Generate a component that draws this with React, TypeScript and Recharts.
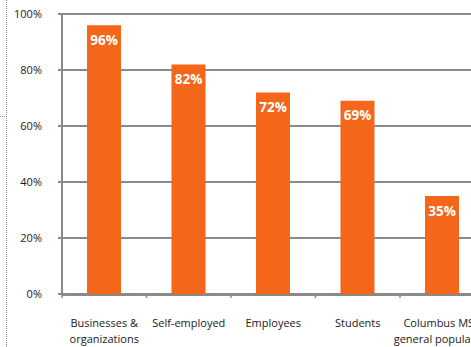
import React from 'react';
import { BarChart, Bar, XAxis, YAxis, CartesianGrid, LabelList } from 'recharts';

const categories = [
  ['Businesses &', 'organizations'],
  ['Self-employed'],
  ['Employees'],
  ['Students'],
  ['Columbus MSA', 'general population'],
];
const shares = [96, 82, 72, 69, 35];
const yTicks = [0, 20, 40, 60, 80, 100];
const edgeTicks = [0, 1, 2, 3, 4, 5];

const data = categories.map((lines, i) => ({
  name: lines.join(' '),
  lines,
  idx: i + 0.5,
  value: shares[i],
}));

const FONT = '"Open Sans", sans-serif';
const AXIS = '#8a8a8a';

const CategoryTick = (props: any) => {
  const { x, y, payload } = props;
  const lines: string[] = data[payload.index]?.lines ?? [payload.value];
  return (
    <text x={x} y={y + 24} textAnchor="middle" fontFamily={FONT} fontSize={11} fill="#1a1a1a">
      {lines.map((l, i) => (
        <tspan key={i} x={x} dy={i === 0 ? 0 : 16}>
          {l}
        </tspan>
      ))}
    </text>
  );
};

// boundary tick marks between categories, label-less
const EmptyTick = () => <g />;

const App = () => {
  return (
    <div
      style={{
        position: 'absolute',
        left: 0,
        top: 0,
        width: 471,
        height: 347,
        overflow: 'hidden',
        background: '#fff',
      }}
    >
      {/* dotted frame edge on the left */}
      <div
        style={{
          position: 'absolute',
          left: 6,
          top: 0,
          height: 347,
          borderLeft: '1px dotted #888',
        }}
      />
      <div style={{ position: 'absolute', left: 0, top: 116, width: 7, borderTop: '1px dotted #888' }} />
      <BarChart
        width={500}
        height={347}
        data={data}
        margin={{ top: 14, right: 15.5, bottom: 0, left: 0 }}
        barCategoryGap="30%"
      >
        <CartesianGrid xAxisId="b" horizontal vertical={false} stroke={AXIS} strokeWidth={2} />
        <XAxis
          xAxisId="b"
          dataKey="name"
          interval={0}
          height={52}
          axisLine={{ stroke: AXIS, strokeWidth: 2 }}
          tickLine={false}
          tick={<CategoryTick />}
        />
        <XAxis
          xAxisId="a"
          type="number"
          dataKey="idx"
          domain={[0, 5]}
          ticks={edgeTicks}
          tick={<EmptyTick />}
          axisLine={false}
          tickLine={{ stroke: AXIS, strokeWidth: 1.5 }}
          tickSize={4}
          height={1}
        />
        <YAxis
          width={62}
          domain={[0, 100]}
          ticks={yTicks}
          tickFormatter={(v) => `${v}%`}
          axisLine={{ stroke: AXIS, strokeWidth: 2 }}
          tickLine={{ stroke: AXIS, strokeWidth: 2 }}
          tickSize={4}
          tickMargin={16}
          tick={{ fontFamily: FONT, fontSize: 11, fill: '#1a1a1a' }}
        />
        <Bar xAxisId="b" dataKey="value" fill="#F46619" barSize={34} isAnimationActive={false}>
          <LabelList
            dataKey="value"
            position="insideTop"
            offset={10}
            formatter={(v: any) => `${v}%`}
            fill="#fff"
            fontFamily={FONT}
            fontSize={13.5}
            fontWeight="bold"
          />
        </Bar>
      </BarChart>
    </div>
  );
};

export default App;
